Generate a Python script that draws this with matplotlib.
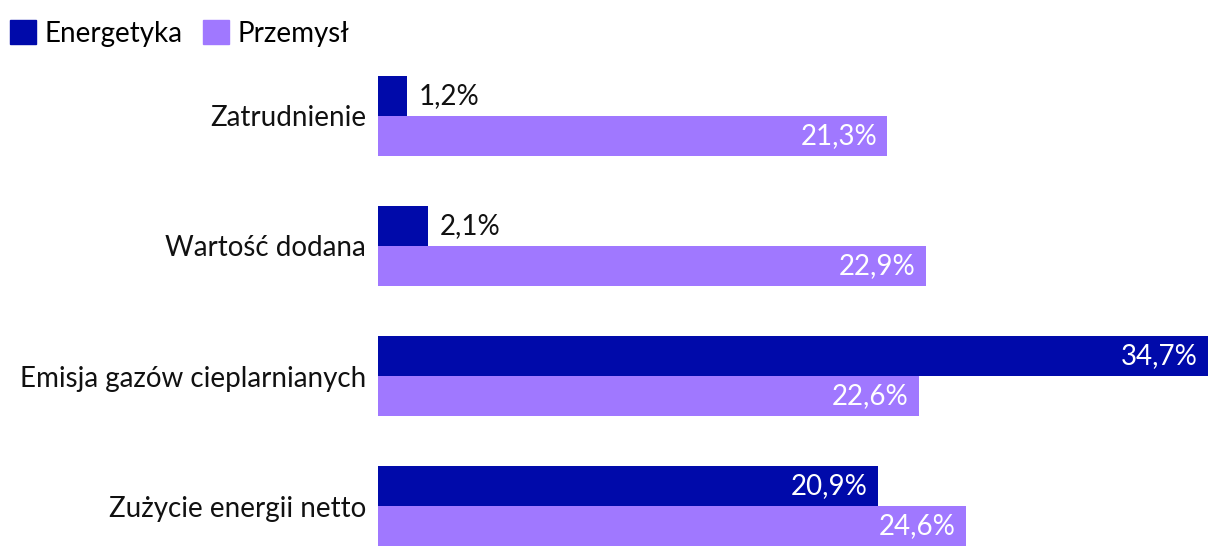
import numpy as np
import matplotlib.pyplot as plt
from matplotlib.patches import Patch

plt.rcParams['font.family'] = ['Lato', 'DejaVu Sans']

# Data
categories = ["Zatrudnienie", "Wartość dodana", "Emisja gazów cieplarnianych", "Zużycie energii netto"]
energetyka = [1.2, 2.1, 34.7, 20.9]
przemysl = [21.3, 22.9, 22.6, 24.6]
series_names = ["Energetyka", "Przemysł"]

c_energ = "#000AAA"
c_przem = "#A078FF"
fs = 20

W, H = 1220, 558
fig = plt.figure(figsize=(W / 100, H / 100), dpi=100)

# axes placed in pixel terms
left, right, top, bottom = 378, 1208, 60, 558
ax = fig.add_axes([left / W, 1 - bottom / H, (right - left) / W, (bottom - top) / H])

pitch = 130.0
bar_h = 40 / pitch
y = np.arange(len(categories))

b1 = ax.barh(y - bar_h / 2, energetyka, height=bar_h, color=c_energ)
b2 = ax.barh(y + bar_h / 2, przemysl, height=bar_h, color=c_przem)

ax.set_xlim(0, max(energetyka))
ax.set_ylim(3 + (bottom - 506) / pitch, -(116 - top) / pitch)

ax.set_yticks(y)
ax.set_yticklabels(categories, fontsize=fs, color="#111111")
ax.tick_params(axis="y", length=0, pad=8.5)
ax.set_xticks([])
for s in ax.spines.values():
    s.set_visible(False)

def fmt(v):
    return f"{v:.1f}%".replace(".", ",")

for bars, vals in ((b1, energetyka), (b2, przemysl)):
    for rect, v in zip(bars, vals):
        cy = rect.get_y() + rect.get_height() / 2
        if v < 5:
            ax.annotate(fmt(v), (v, cy), xytext=(8.5, 0), textcoords="offset points",
                        ha="left", va="center", fontsize=fs, color="#111111")
        else:
            ax.annotate(fmt(v), (v, cy), xytext=(-7.5, 0), textcoords="offset points",
                        ha="right", va="center", fontsize=fs, color="white")

handles = [Patch(color=c_energ), Patch(color=c_przem)]
fig.legend(handles, series_names, loc="upper left", bbox_to_anchor=(10 / W, 1 - 20 / H),
           ncol=2, frameon=False, fontsize=fs, handlelength=0.94, handleheight=0.97,
           handletextpad=0.3, columnspacing=0.75, borderaxespad=0, borderpad=0)

fig.savefig("out.png", dpi=100)
